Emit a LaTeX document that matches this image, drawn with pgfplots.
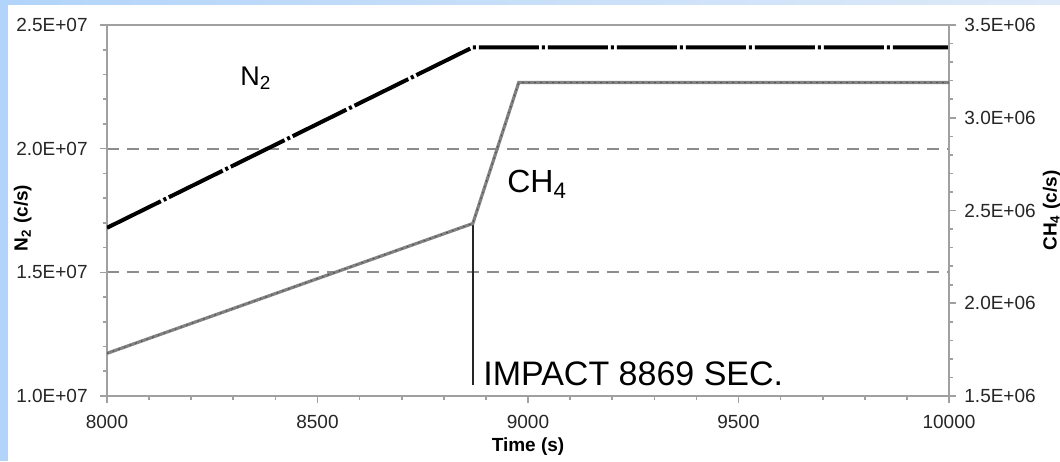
\documentclass[border=0pt]{standalone}
\usepackage{pgfplots}
\pgfplotsset{compat=1.18}
\usepackage{fontspec}
\setmainfont{Liberation Sans}
\definecolor{frameblue}{RGB}{178,212,250}
\definecolor{frametop}{RGB}{222,234,248}
\definecolor{axgray}{RGB}{160,160,160}
\definecolor{gridgray}{RGB}{140,140,140}
\definecolor{chgray}{RGB}{130,130,130}

\pgfplotsset{
  chartbase/.style={
    scale only axis, width=421pt, height=185.5pt,
    xmin=8000, xmax=10000,
    scaled ticks=false,
    tick align=outside,
    major tick length=3.5pt, minor tick length=2pt,
    axis line style={axgray, line width=1.2pt},
    every tick/.style={axgray, line width=0.8pt},
    tick label style={font=\fontsize{9.5}{11}\selectfont, text=black!85},
    label style={font=\bfseries\fontsize{9.5}{11}\selectfont},
  },
}

\begin{document}
\begin{tikzpicture}
\useasboundingbox (-53.5pt,-32.5pt) rectangle (476.5pt,198pt);
\fill[frameblue] (-53.5pt,-32.5pt) rectangle (476.5pt,198pt);
\shade[left color=frameblue, right color=frametop] (-53.5pt,195.5pt) rectangle (476.5pt,198pt);
\fill[white] (-49.5pt,-32.5pt) rectangle (476.5pt,195.5pt);

% N2, left axis
\begin{axis}[chartbase,
  ymin=1e7, ymax=2.5e7,
  xtick={8000,8500,9000,9500,10000},
  xticklabels={8000,8500,9000,9500,10000},
  ytick={1e7,1.5e7,2e7,2.5e7},
  yticklabels={1.0E+07,1.5E+07,2.0E+07,2.5E+07},
  minor x tick num=4, minor y tick num=4,
  tick pos=left,
  ymajorgrids,
  grid style={gridgray, line width=0.9pt, dash pattern=on 6pt off 4pt},
  xticklabel style={inner sep=0pt, anchor=north, yshift=-6pt},
  yticklabel style={inner sep=0pt, anchor=east, xshift=-6pt},
  xlabel={Time (s)},
  xlabel style={at={(axis description cs:0.5,-0.112)}, anchor=north, inner sep=0pt},
  ylabel={N\textsubscript{2} (c/s)},
  ylabel style={at={(axis description cs:-0.089,0.48)}, rotate=0, anchor=south, inner sep=0pt},
]
\addplot[black!85, line width=1pt] coordinates {(8869,1.045e7) (8869,1.70e7)};
\addplot[black, line width=2pt, dash pattern=on 30pt off 1.5pt on 1.5pt off 1.5pt]
  coordinates {(8000,1.68e7) (8869,2.41e7) (10000,2.41e7)};
\node[anchor=base west, inner sep=0pt, font=\fontsize{13.5}{15}\selectfont]
  at (axis cs:8316,2.257e7) {N\textsubscript{2}};
\node[anchor=base west, inner sep=0pt, font=\fontsize{16}{18}\selectfont]
  at (axis cs:8950,1.821e7) {CH\textsubscript{4}};
\node[anchor=base west, inner sep=0pt, font=\fontsize{17}{19}\selectfont]
  at (axis cs:8893,1.044e7) {IMPACT 8869 SEC.};
\end{axis}

% CH4, right axis
\begin{axis}[chartbase,
  ymin=1.5e6, ymax=3.5e6,
  axis x line=none, axis y line*=right,
  ytick={1.5e6,2e6,2.5e6,3e6,3.5e6},
  yticklabels={1.5E+06,2.0E+06,2.5E+06,3.0E+06,3.5E+06},
  minor y tick num=4,
  yticklabel style={inner sep=0pt, anchor=west, xshift=4pt},
  ylabel={CH\textsubscript{4} (c/s)},
  ylabel style={at={(axis description cs:1.111,0.5)}, rotate=0, anchor=north, inner sep=0pt},
]
\addplot[chgray, line width=1.6pt]
  coordinates {(8000,1.73e6) (8869,2.43e6) (8978,3.19e6) (10000,3.19e6)};
\addplot[black!70, line width=0.5pt, dash pattern=on 0.8pt off 2.2pt]
  coordinates {(8000,1.73e6) (8869,2.43e6) (8978,3.19e6) (10000,3.19e6)};
\end{axis}
\end{tikzpicture}
\end{document}
